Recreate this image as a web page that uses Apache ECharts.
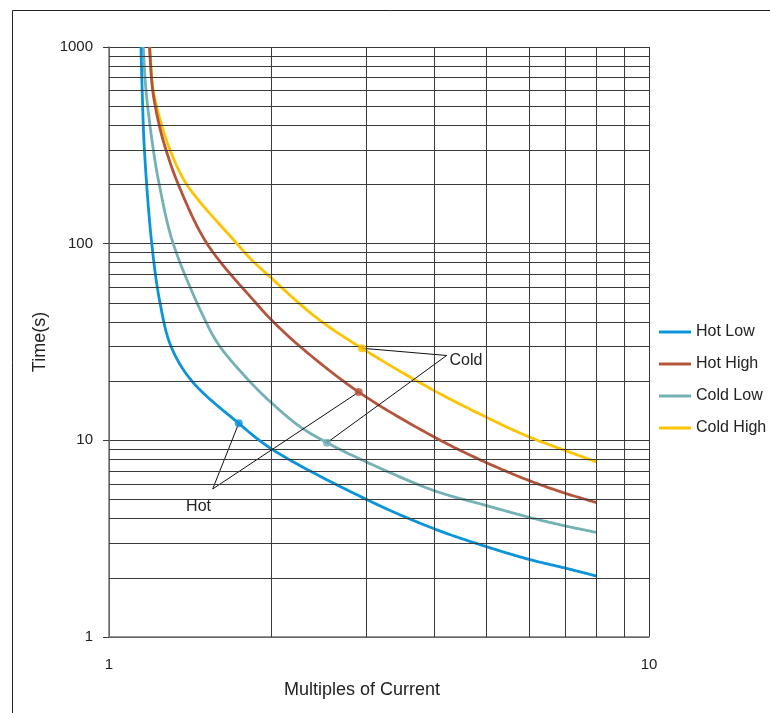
<!DOCTYPE html>
<html>
<head>
<meta charset="utf-8">
<script src="https://cdn.jsdelivr.net/npm/echarts@6/dist/echarts.min.js"></script>
<style>html,body{margin:0;padding:0;background:#fff}#c{width:770px;height:713px}</style>
</head>
<body>
<div id="c"></div>
<script>
// ---- data ----
var seriesNames = ['Hot Low', 'Hot High', 'Cold Low', 'Cold High'];
var hotLow = [[1.146,1000],[1.152,600],[1.163,300],[1.2,100],[1.243,50],[1.303,30],[1.424,20],[1.739,12.2],[2.0,9.04],[3,5.0],[4,3.55],[5,2.88],[6,2.48],[7,2.24],[8,2.04]];
var hotHigh = [[1.188,1000],[1.205,600],[1.239,400],[1.275,300],[1.344,200],[1.519,100],[1.864,50.5],[2,40.9],[2.258,30],[2.9,17.6],[4,10.4],[5,7.7],[6,6.24],[7,5.38],[8,4.82]];
var coldLow = [[1.157,1000],[1.171,600],[1.208,300],[1.239,200],[1.315,100],[1.512,40],[1.605,30],[1.82,20],[2,15.5],[2.258,11.74],[2.533,9.73],[3,7.75],[4,5.55],[5,4.66],[6,4.06],[7,3.67],[8,3.40]];
var coldHigh = [[1.19,1000],[1.208,600],[1.252,400],[1.297,300],[1.393,200],[1.726,100],[1.838,82.6],[2,66.7],[2.235,50.5],[2.48,40],[2.938,29.4],[4,17.9],[5,13.1],[6,10.4],[7,8.87],[8,7.76]];
var markerPoints = [[1.739,12.2],[2.9,17.6],[2.533,9.73],[2.938,29.4]]; // Hot Low, Hot High, Cold Low, Cold High
var hotVertex = [1.556, 5.66];
var coldVertex = [4.22, 27.0];
var hotLabelAt = [1.465, 4.58];
var coldLabelAt = [4.27, 25.3];
var xMinorTicks = [2,3,4,5,6,7,8,9];
var yMinorTicks = [2,3,4,5,6,7,8,9,20,30,40,50,60,70,80,90,200,300,400,500,600,700,800,900];
var xTickLabels = ['1','10'];
var yTickLabels = ['1','10','100','1000'];

var colors = ['#0b94d9', '#b4543b', '#74b1b5', '#fdc300'];
var FONT = "'Liberation Sans', Arial, sans-serif";
var GRID = '#3a3a3a';

var curveData = [hotLow, hotHigh, coldLow, coldHigh];
var drawOrder = [3, 2, 1, 0]; // cold curves underneath hot curves, as in the reference

// smooth (centripetal Catmull-Rom) path through pixel points given by the axes
function smoothPixels(pts) {
  var n = pts.length, out = [pts[0]], STEPS = 20;
  function dist(a, b) { var dx = a[0]-b[0], dy = a[1]-b[1]; return Math.sqrt(Math.sqrt(dx*dx+dy*dy)) || 1e-6; }
  for (var i = 0; i < n - 1; i++) {
    var p1 = pts[i], p2 = pts[i+1];
    var p0 = i > 0 ? pts[i-1] : [2*p1[0]-p2[0], 2*p1[1]-p2[1]];
    var p3 = i + 2 < n ? pts[i+2] : [2*p2[0]-p1[0], 2*p2[1]-p1[1]];
    var d1 = dist(p1, p0), d2 = dist(p2, p1), d3 = dist(p3, p2);
    var b1 = [0,0], b2 = [0,0];
    for (var k = 0; k < 2; k++) {
      b1[k] = (d1*d1*p2[k] - d2*d2*p0[k] + (2*d1*d1 + 3*d1*d2 + d2*d2)*p1[k]) / (3*d1*(d1+d2));
      b2[k] = (d3*d3*p1[k] - d2*d2*p3[k] + (2*d3*d3 + 3*d3*d2 + d2*d2)*p2[k]) / (3*d3*(d3+d2));
    }
    for (var s = 1; s <= STEPS; s++) {
      var t = s / STEPS, u = 1 - t;
      out.push([
        u*u*u*p1[0] + 3*u*u*t*b1[0] + 3*u*t*t*b2[0] + t*t*t*p2[0],
        u*u*u*p1[1] + 3*u*u*t*b1[1] + 3*u*t*t*b2[1] + t*t*t*p2[1]
      ]);
    }
  }
  return out;
}

var series = [];

// minor grid lines via markLine
series.push({
  name: 'grid', type: 'line', data: [[1,1]], symbol: 'none', silent: true, z: 1,
  lineStyle: {opacity: 0}, legendHoverLink: false,
  markLine: {
    silent: true, symbol: 'none', animation: false, label: {show: false},
    lineStyle: {type: 'solid', color: GRID, width: 1},
    emphasis: {disabled: true},
    data: xMinorTicks.map(function (v) { return {xAxis: v}; })
      .concat(yMinorTicks.map(function (v) { return {yAxis: v}; }))
  }
});

drawOrder.forEach(function (i) {
  var pts = curveData[i];
  series.push({
    name: seriesNames[i], type: 'custom', data: pts, z: 3, silent: true,
    encode: {x: 0, y: 1},
    itemStyle: {color: colors[i]},
    renderItem: function (params, api) {
      if (params.dataIndex !== 0) return null;
      var px = pts.map(function (p) { return api.coord(p); });
      return {
        type: 'polyline',
        shape: {points: smoothPixels(px)},
        style: {stroke: colors[i], lineWidth: 2.8, fill: null, lineJoin: 'round', lineCap: 'butt'}
      };
    }
  });
});

// callout lines
series.push({
  name: 'callouts', type: 'lines', coordinateSystem: 'cartesian2d', z: 4, silent: true,
  lineStyle: {color: '#111', width: 1, opacity: 1},
  data: [
    {coords: [hotVertex, markerPoints[0]]},
    {coords: [hotVertex, markerPoints[1]]},
    {coords: [coldVertex, markerPoints[3]]},
    {coords: [coldVertex, markerPoints[2]]}
  ]
});

// markers
series.push({
  name: 'markers', type: 'scatter', z: 5, symbolSize: 8, silent: true,
  data: markerPoints.map(function (p, i) { return {value: p, itemStyle: {color: colors[i]}}; })
});

// annotation texts
series.push({
  name: 'notes', type: 'scatter', z: 6, symbolSize: 0, silent: true,
  itemStyle: {color: '#222'},
  data: [
    {value: hotLabelAt, label: {show: true, formatter: 'Hot', position: 'inside', align: 'center', verticalAlign: 'middle'}},
    {value: coldLabelAt, label: {show: true, formatter: 'Cold', position: 'inside', align: 'left', verticalAlign: 'middle'}}
  ],
  label: {color: '#222', fontSize: 16, fontFamily: FONT, opacity: 1}
});

var chart = echarts.init(document.getElementById('c'), null, {renderer: 'canvas'});
chart.setOption({
  animation: false,
  backgroundColor: '#fff',
  textStyle: {fontFamily: FONT},
  graphic: [{
    type: 'rect', silent: true, z: 0,
    shape: {x: 12.5, y: 10.5, width: 820, height: 800},
    style: {fill: 'none', stroke: '#222', lineWidth: 1}
  }],
  legend: {
    data: seriesNames.map(function (nm, i) { return {name: nm, itemStyle: {color: colors[i]}}; }),
    orient: 'vertical', left: 659, top: 324, padding: 0,
    itemWidth: 32, itemHeight: 3, itemGap: 16, icon: 'rect',
    textStyle: {fontSize: 16, color: '#222', fontFamily: FONT}
  },
  grid: {left: 109, top: 47, width: 540, height: 590, containLabel: false},
  xAxis: {
    type: 'log', logBase: 10, min: 1, max: 10,
    name: 'Multiples of Current', nameLocation: 'middle', nameGap: 44,
    nameTextStyle: {fontSize: 18, color: '#222', fontFamily: FONT, padding: [0, 34, 0, 0]},
    axisLine: {show: true, lineStyle: {color: '#777', width: 1.5}},
    axisTick: {show: false},
    axisLabel: {fontSize: 15, color: '#222', margin: 20, fontFamily: FONT,
      formatter: function (v) { var s = String(Math.round(v)); return xTickLabels.indexOf(s) >= 0 ? s : ''; }},
    splitLine: {show: true, lineStyle: {color: GRID, width: 1}}
  },
  yAxis: {
    type: 'log', logBase: 10, min: 1, max: 1000,
    name: 'Time(s)', nameLocation: 'middle', nameGap: 54,
    nameTextStyle: {fontSize: 18, color: '#222', fontFamily: FONT},
    axisLine: {show: true, lineStyle: {color: '#777', width: 1.5}},
    axisTick: {show: true, length: 6, inside: false, lineStyle: {color: GRID}},
    axisLabel: {fontSize: 15, color: '#222', margin: 16, fontFamily: FONT,
      formatter: function (v) { var s = String(Math.round(v)); return yTickLabels.indexOf(s) >= 0 ? s : ''; }},
    splitLine: {show: true, lineStyle: {color: GRID, width: 1}}
  },
  series: series
});
</script>
</body>
</html>
